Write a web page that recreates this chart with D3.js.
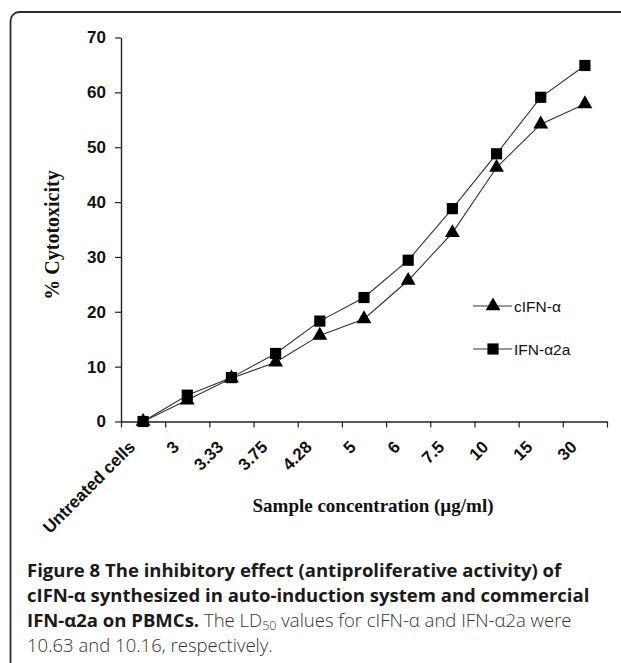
<!DOCTYPE html>
<html>
<head>
<meta charset="utf-8">
<script src="https://cdn.jsdelivr.net/npm/d3@7"></script>
<style>
  html, body { margin: 0; padding: 0; background: #fff; }
  svg { display: block; }
</style>
</head>
<body>
<script>
// ---- data ----
const categories = ["Untreated cells", "3", "3.33", "3.75", "4.28", "5", "6", "7.5", "10", "15", "30"];
const cIFNa = [0, 3.9, 7.9, 10.8, 15.7, 18.7, 25.7, 34.4, 46.3, 54.2, 57.9];
const IFNa2a = [0, 4.8, 8.0, 12.4, 18.3, 22.6, 29.4, 38.8, 48.8, 59.1, 64.9];
const yTicks = [0, 10, 20, 30, 40, 50, 60, 70];
const seriesNames = ["cIFN-α", "IFN-α2a"];
const yTitle = "% Cytotoxicity";
const xTitle = "Sample concentration (µg/ml)";

const W = 621, H = 663;
const svg = d3.select("body").append("svg").attr("width", W).attr("height", H);

// frame
svg.append("rect").attr("x", 10.5).attr("y", 12).attr("width", 700).attr("height", 700)
  .attr("rx", 9).attr("fill", "none").attr("stroke", "#2a2a2a").attr("stroke-width", 1.8);

const x = d3.scaleBand().domain(categories).range([121, 607]);
const xi = d3.scaleLinear().domain([0, categories.length]).range([121, 607]);
const y = d3.scaleLinear().domain([0, 70]).range([421.5, 37.5]);
const cx = c => x(c) + x.bandwidth() / 2;

// y axis
const gy = svg.append("g").attr("transform", "translate(121,0)")
  .call(d3.axisLeft(y).tickValues(yTicks).tickSize(6).tickPadding(9).tickSizeOuter(0));
gy.select(".domain").attr("stroke", "#222").attr("stroke-width", 1.4);
gy.selectAll(".tick line").attr("stroke", "#222").attr("stroke-width", 1.2);
gy.selectAll(".tick text").attr("font-family", "Liberation Sans, Arial, sans-serif")
  .attr("font-weight", "bold").attr("font-size", 17).attr("fill", "#111");

// x axis (ticks at category boundaries)
const gx = svg.append("g").attr("transform", `translate(0,${y(0)})`)
  .call(d3.axisBottom(xi).tickValues(d3.range(categories.length + 1)).tickSize(6).tickFormat("").tickSizeOuter(0));
gx.select(".domain").attr("stroke", "#222").attr("stroke-width", 1.4);
gx.selectAll(".tick line").attr("stroke", "#222").attr("stroke-width", 1.2);

// x tick labels
svg.append("g").selectAll("text").data(categories).join("text")
  .attr("transform", d => `translate(${cx(d) - 7},${448}) rotate(-45)`)
  .attr("text-anchor", "end")
  .attr("font-family", "Liberation Sans, Arial, sans-serif")
  .attr("font-weight", "bold").attr("font-size", 17).attr("fill", "#111")
  .text(d => d);

// titles
svg.append("text").attr("x", 373).attr("y", 512).attr("text-anchor", "middle")
  .attr("font-family", "Liberation Serif, Times New Roman, serif").attr("font-weight", "bold")
  .attr("font-size", 19).attr("fill", "#111").text(xTitle);
svg.append("text").attr("transform", "translate(59,235) rotate(-90)").attr("text-anchor", "middle")
  .attr("font-family", "Liberation Serif, Times New Roman, serif").attr("font-weight", "bold")
  .attr("font-size", 20).attr("fill", "#111").text(yTitle);

// lines
const line = d3.line().x((d, i) => cx(categories[i])).y(d => y(d));
svg.append("path").datum(cIFNa).attr("d", line).attr("fill", "none").attr("stroke", "#333").attr("stroke-width", 1.1);
svg.append("path").datum(IFNa2a).attr("d", line).attr("fill", "none").attr("stroke", "#333").attr("stroke-width", 1.1);

const tri = d3.symbol().type(d3.symbolTriangle).size(95);
const sq = d3.symbol().type(d3.symbolSquare).size(125);
svg.append("g").selectAll("path").data(cIFNa).join("path")
  .attr("transform", (d, i) => `translate(${cx(categories[i])},${y(d)})`)
  .attr("d", tri).attr("fill", "#000");
svg.append("g").selectAll("path").data(IFNa2a).join("path")
  .attr("transform", (d, i) => `translate(${cx(categories[i])},${y(d)})`)
  .attr("d", sq).attr("fill", "#000");

// legend
const lg = svg.append("g");
[[0, tri], [1, sq]].forEach(([k, sym]) => {
  const ly = 306 + k * 43;
  lg.append("line").attr("x1", 473).attr("x2", 512).attr("y1", ly).attr("y2", ly).attr("stroke", "#333").attr("stroke-width", 1.1);
  lg.append("path").attr("transform", `translate(493,${ly})`).attr("d", sym).attr("fill", "#000");
  lg.append("text").attr("x", 514).attr("y", ly + 5.5).attr("font-family", "Liberation Sans, Arial, sans-serif")
    .attr("font-size", 15.5).attr("fill", "#111").text(seriesNames[k]);
});

// caption
const capFont = "Open Sans, Noto Sans, sans-serif";
const cap = svg.append("g").attr("font-family", capFont).attr("fill", "#222");
const lines = [
  [{t: "Figure 8 The inhibitory effect (antiproliferative activity) of", b: true}],
  [{t: "cIFN-α synthesized in auto-induction system and commercial", b: true}],
  [{t: "IFN-α2a on PBMCs.", b: true}, {t: " The LD", b: false}, {t: "50", b: false, sub: true}, {t: " values for cIFN-α and IFN-α2a were", b: false}],
  [{t: "10.63 and 10.16, respectively.", b: false}]
];
const capTexts = lines.map((parts, li) => {
  const t = cap.append("text").attr("x", 27).attr("y", 577 + li * 25);
  parts.forEach(p => {
    const s = t.append("tspan").text(p.t)
      .attr("font-weight", p.b ? "bold" : 300).attr("fill", p.b ? "#1a1a1a" : "#333");
    if (p.sub) s.attr("font-size", "0.68em").attr("dy", 3);
    else if (parts.some(q => q.sub) && p.t.startsWith(" values")) s.attr("dy", -3);
  });
  return t;
});
// fit font size so line 2 spans the measured width
cap.attr("font-size", 17);
const len = capTexts[1].node().getComputedTextLength();
cap.attr("font-size", 17 * 563 / len);
</script>
</body>
</html>
